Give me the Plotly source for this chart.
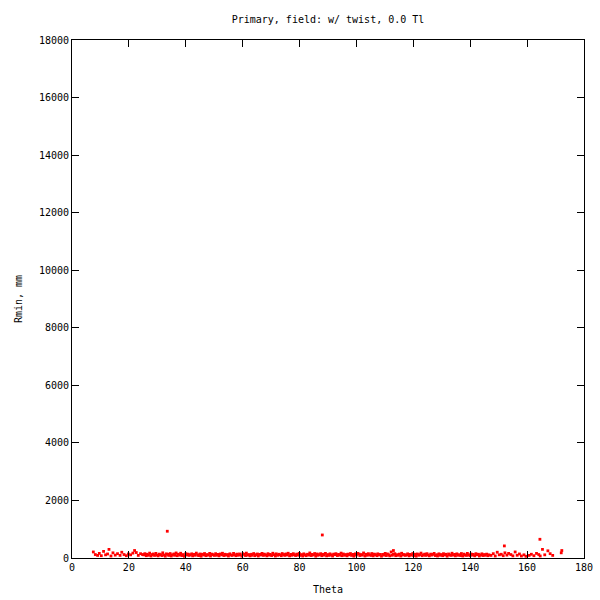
import numpy as np
import plotly.graph_objects as go

# Sparse low-theta points
theta_low = [7.5, 8.2, 9.0, 9.6, 10.3, 11.1, 11.8, 12.5, 13.0, 13.7, 14.4, 15.2, 16.0, 16.9, 17.5,
             18.3, 19.1, 19.8, 20.6, 21.4, 22.0, 22.6, 23.3, 24.1, 24.8]
rmin_low = [210, 120, 90, 160, 80, 230, 110, 140, 300, 70, 180, 100, 150, 90, 200,
            120, 80, 140, 110, 170, 260, 190, 90, 150, 120]

# Dense band
theta_mid = [
    25.2, 25.6, 26.1, 26.4, 26.9, 27.3, 27.8, 28.1, 28.6, 29.0,
    29.5, 29.8, 30.3, 30.7, 31.1, 31.6, 31.9, 32.4, 32.8, 33.2,
    33.7, 34.0, 34.5, 34.9, 35.3, 35.8, 36.1, 36.6, 37.0, 37.4,
    37.9, 38.2, 38.7, 39.1, 39.5, 40.0, 40.3, 40.8, 41.2, 41.6,
    42.1, 42.4, 42.9, 43.3, 43.7, 44.2, 44.5, 45.0, 45.4, 45.8,
    46.3, 46.6, 47.1, 47.5, 47.9, 48.4, 48.7, 49.2, 49.6, 50.0,
    50.5, 50.8, 51.3, 51.7, 52.1, 52.6, 52.9, 53.4, 53.8, 54.2,
    54.7, 55.0, 55.5, 55.9, 56.3, 56.8, 57.1, 57.6, 58.0, 58.4,
    58.9, 59.2, 59.7, 60.1, 60.5, 61.0, 61.3, 61.8, 62.2, 62.6,
    63.1, 63.4, 63.9, 64.3, 64.7, 65.2, 65.5, 66.0, 66.4, 66.8,
    67.3, 67.6, 68.1, 68.5, 68.9, 69.4, 69.7, 70.2, 70.6, 71.0,
    71.5, 71.8, 72.3, 72.7, 73.1, 73.6, 73.9, 74.4, 74.8, 75.2,
    75.7, 76.0, 76.5, 76.9, 77.3, 77.8, 78.1, 78.6, 79.0, 79.4,
    79.9, 80.2, 80.7, 81.1, 81.5, 82.0, 82.3, 82.8, 83.2, 83.6,
    84.1, 84.4, 84.9, 85.3, 85.7, 86.2, 86.5, 87.0, 87.4, 87.8,
    88.3, 88.6, 89.1, 89.5, 89.9, 90.4, 90.7, 91.2, 91.6, 92.0,
    92.5, 92.8, 93.3, 93.7, 94.1, 94.6, 94.9, 95.4, 95.8, 96.2,
    96.7, 97.0, 97.5, 97.9, 98.3, 98.8, 99.1, 99.6, 100.0, 100.4,
    100.9, 101.2, 101.7, 102.1, 102.5, 103.0, 103.3, 103.8, 104.2, 104.6,
    105.1, 105.4, 105.9, 106.3, 106.7, 107.2, 107.5, 108.0, 108.4, 108.8,
    109.3, 109.6, 110.1, 110.5, 110.9, 111.4, 111.7, 112.2, 112.6, 113.0,
    113.5, 113.8, 114.3, 114.7, 115.1, 115.6, 115.9, 116.4, 116.8, 117.2,
    117.7, 118.0, 118.5, 118.9, 119.3, 119.8, 120.1, 120.6, 121.0, 121.4,
    121.9, 122.2, 122.7, 123.1, 123.5, 124.0, 124.3, 124.8, 125.2, 125.6,
    126.1, 126.4, 126.9, 127.3, 127.7, 128.2, 128.5, 129.0, 129.4, 129.8,
    130.3, 130.6, 131.1, 131.5, 131.9, 132.4, 132.7, 133.2, 133.6, 134.0,
    134.5, 134.8, 135.3, 135.7, 136.1, 136.6, 136.9, 137.4, 137.8, 138.2,
    138.7, 139.0, 139.5, 139.9, 140.3, 140.8, 141.1, 141.6, 142.0, 142.4,
    142.9, 143.2, 143.7, 144.1, 144.5, 145.0, 145.3, 145.8, 146.2, 146.6,
]
rmin_mid = [
    110, 150, 80, 130, 95, 170, 70, 120, 140, 90,
    160, 100, 75, 135, 115, 85, 180, 105, 65, 145,
    125, 90, 155, 70, 110, 140, 95, 175, 80, 130,
    100, 165, 85, 120, 60, 150, 105, 135, 90, 115,
    145, 75, 125, 95, 170, 110, 85, 140, 65, 130,
    105, 155, 80, 120, 100, 160, 70, 135, 115, 90,
    150, 95, 125, 75, 140, 110, 165, 85, 130, 100,
    120, 70, 145, 105, 90, 160, 115, 80, 135, 95,
    140, 110, 65, 150, 125, 85, 170, 100, 120, 75,
    130, 95, 155, 80, 115, 140, 70, 125, 105, 160,
    90, 135, 110, 75, 150, 100, 125, 85, 165, 115,
    70, 145, 95, 130, 110, 80, 155, 120, 90, 140,
    105, 165, 75, 125, 95, 150, 115, 85, 135, 100,
    160, 90, 120, 70, 145, 110, 80, 130, 100, 175,
    85, 125, 105, 155, 65, 140, 95, 115, 150, 80,
    130, 100, 160, 75, 120, 90, 145, 110, 70, 135,
    115, 150, 85, 125, 100, 170, 80, 140, 95, 120,
    75, 135, 110, 155, 90, 125, 65, 145, 105, 160,
    140, 85, 120, 100, 175, 70, 130, 95, 150, 110,
    90, 155, 75, 135, 115, 80, 145, 105, 125, 65,
    125, 100, 160, 85, 140, 110, 75, 210, 95, 130,
    150, 80, 115, 95, 135, 70, 165, 105, 120, 90,
    110, 145, 75, 125, 100, 155, 85, 130, 65, 140,
    95, 120, 170, 80, 110, 135, 90, 150, 105, 75,
    135, 100, 125, 160, 85, 115, 70, 145, 95, 120,
    80, 150, 105, 130, 65, 140, 110, 90, 165, 100,
    125, 75, 145, 95, 115, 85, 155, 70, 135, 105,
    90, 160, 110, 80, 140, 100, 125, 75, 150, 115,
    130, 70, 105, 145, 85, 120, 95, 135, 80, 110,
]

# Sparse high-theta points
theta_high = [147.3, 148.1, 148.8, 149.5, 150.2, 150.9, 151.6, 152.2, 152.9, 153.5, 154.3, 155.0,
              155.8, 156.5, 157.3, 158.0, 158.9, 159.6, 160.7, 161.5, 162.4, 163.3, 164.1, 164.6,
              165.4, 166.2, 167.3, 168.1, 169.0, 172.0, 172.2]
rmin_high = [90, 150, 70, 200, 110, 130, 80, 180, 100, 160, 120, 75,
             210, 95, 140, 70, 110, 60, 90, 130, 80, 160, 120, 70,
             300, 110, 250, 150, 90, 180, 260]

# Isolated outliers
theta_out = [33.5, 88.0, 113.0, 152.0, 164.5]
rmin_out = [930, 800, 260, 420, 650]

theta = theta_low + theta_mid + theta_high + theta_out
rmin = rmin_low + rmin_mid + rmin_high + rmin_out
assert len(theta) == len(rmin)

font = "DejaVu Sans Mono"
fs = 10

fig = go.Figure()
fig.add_trace(go.Scatter(
    x=theta, y=rmin, mode="markers",
    marker=dict(color="#ff0000", size=2.8, symbol="square", line=dict(width=0)),
    showlegend=False, cliponaxis=False,
))

axis_common = dict(
    showline=True, linecolor="black", linewidth=1, mirror="allticks",
    ticks="inside", ticklen=7, tickcolor="black", tickwidth=1,
    showgrid=False, zeroline=False, automargin=False,
    tickfont=dict(family=font, size=fs, color="black"),
)

fig.update_layout(
    width=600, height=600,
    margin=dict(l=72, r=16, t=40, b=42),
    paper_bgcolor="white", plot_bgcolor="white",
    title=dict(text="Primary, field: w/ twist, 0.0 Tl", x=0.5, xref="paper", xanchor="center",
               y=0.967, yref="container", yanchor="middle",
               font=dict(family=font, size=fs, color="black")),
    xaxis=dict(range=[0, 180], tickmode="linear", tick0=0, dtick=20, tickformat="d",
               title=dict(text="Theta", font=dict(family=font, size=fs, color="black"), standoff=13),
               **axis_common),
    yaxis=dict(range=[0, 18000], tickmode="linear", tick0=0, dtick=2000, tickformat="d",
               title=dict(text="Rmin, mm", font=dict(family=font, size=fs, color="black"), standoff=14),
               **axis_common),
)

fig.write_html("out.html", config={"displayModeBar": False},
               post_script="document.body.style.margin='0';document.body.style.overflow='hidden';")
